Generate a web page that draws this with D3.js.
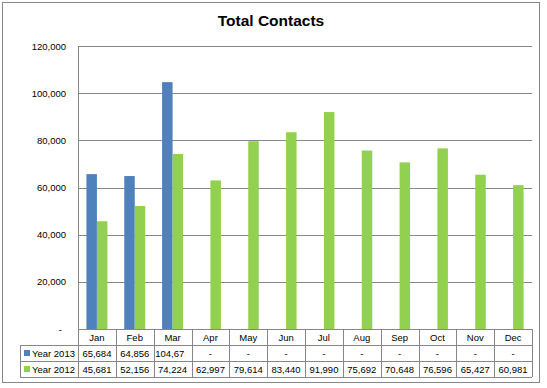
<!DOCTYPE html>
<html>
<head>
<meta charset="utf-8">
<script src="https://cdn.jsdelivr.net/npm/d3@7"></script>
<style>
  body { margin: 0; background: #fff; }
  text { font-family: "Liberation Sans", Arial, sans-serif; fill: #000; }
</style>
</head>
<body>
<div id="chart"></div>
<script>
const months = ["Jan", "Feb", "Mar", "Apr", "May", "Jun", "Jul", "Aug", "Sep", "Oct", "Nov", "Dec"];
const year2013 = [65684, 64856, 104670, null, null, null, null, null, null, null, null, null];
const year2012 = [45681, 52156, 74224, 62997, 79614, 83440, 91990, 75692, 70648, 76596, 65427, 60981];
const seriesNames = ["Year 2013", "Year 2012"];
const seriesColors = ["#4f81bd", "#92d050"];
const yTicks = [0, 20000, 40000, 60000, 80000, 100000, 120000];

const width = 547, height = 388;
const plotLeft = 78, plotRight = 532, plotTop = 46, zeroY = 329;
const rowH = 16, legendLeft = 20;
const grey = "#878787";

const svg = d3.select("#chart").append("svg")
  .attr("width", width)
  .attr("height", height);

// outer border
svg.append("rect")
  .attr("x", 2.5).attr("y", 2.5)
  .attr("width", 537).attr("height", 380)
  .attr("fill", "#fff")
  .attr("stroke", grey);

svg.append("text")
  .attr("x", 271).attr("y", 26)
  .attr("text-anchor", "middle")
  .style("font-size", "15.5px")
  .style("font-weight", "bold")
  .text("Total Contacts");

const x = d3.scaleBand().domain(months).range([plotLeft, plotRight]);
const y = d3.scaleLinear().domain([0, 120000]).range([zeroY, plotTop]);
const barW = 10.5;
const xs = d3.scaleBand().domain(seriesNames).range([0, barW * 2]);
const fmt = d3.format(",");

// gridlines
svg.append("g")
  .selectAll("line")
  .data(yTicks.filter(d => d > 0))
  .join("line")
  .attr("x1", plotLeft).attr("x2", plotRight)
  .attr("y1", d => Math.round(y(d)) + 0.5)
  .attr("y2", d => Math.round(y(d)) + 0.5)
  .attr("stroke", grey);

// y labels
svg.append("g")
  .selectAll("text")
  .data(yTicks)
  .join("text")
  .attr("x", d => d === 0 ? 62 : 66)
  .attr("y", d => y(d) + 3.5)
  .attr("text-anchor", "end")
  .style("font-size", "9.5px")
  .text(d => d === 0 ? "-" : fmt(d));

// bars
const series = [year2013, year2012];
series.forEach((vals, si) => {
  svg.append("g")
    .selectAll("rect")
    .data(months.map((m, i) => ({ m, v: vals[i] })).filter(d => d.v != null))
    .join("rect")
    .attr("x", d => x(d.m) + x.bandwidth() / 2 - barW + xs(seriesNames[si]))
    .attr("y", d => y(d.v))
    .attr("width", barW)
    .attr("height", d => zeroY - y(d.v))
    .attr("fill", seriesColors[si]);
});

// data table
const tableBottom = zeroY + rowH * 3;
const t = svg.append("g");

t.append("line")
  .attr("x1", plotLeft).attr("x2", plotRight)
  .attr("y1", zeroY + 0.5).attr("y2", zeroY + 0.5)
  .attr("stroke", grey);
[1, 2, 3].forEach(r => {
  t.append("line")
    .attr("x1", legendLeft).attr("x2", plotRight)
    .attr("y1", zeroY + rowH * r + 0.5).attr("y2", zeroY + rowH * r + 0.5)
    .attr("stroke", grey);
});

// y axis line
t.append("line")
  .attr("x1", plotLeft + 0.5).attr("x2", plotLeft + 0.5)
  .attr("y1", plotTop).attr("y2", tableBottom)
  .attr("stroke", grey);

// column lines
t.selectAll("line.col")
  .data(months)
  .join("line")
  .attr("class", "col")
  .attr("x1", d => Math.round(x(d) + x.bandwidth()) + 0.5)
  .attr("x2", d => Math.round(x(d) + x.bandwidth()) + 0.5)
  .attr("y1", zeroY).attr("y2", tableBottom)
  .attr("stroke", grey);

t.append("line")
  .attr("x1", legendLeft + 0.5).attr("x2", legendLeft + 0.5)
  .attr("y1", zeroY + rowH).attr("y2", tableBottom)
  .attr("stroke", grey);

// month row
t.selectAll("text.month")
  .data(months)
  .join("text")
  .attr("class", "month")
  .attr("x", d => x(d) + x.bandwidth() / 2)
  .attr("y", zeroY + 12)
  .attr("text-anchor", "middle")
  .style("font-size", "9.5px")
  .text(d => d);

// clip paths per cell so long numbers get cut like the original
const cellInner = x.bandwidth() - 8;
const defs = svg.append("defs");
months.forEach((m, i) => {
  defs.append("clipPath").attr("id", "cell" + i)
    .append("rect")
    .attr("x", x(m) + 1).attr("y", zeroY)
    .attr("width", cellInner - 0.3).attr("height", rowH * 3);
});

series.forEach((vals, si) => {
  const rowY = zeroY + rowH * (si + 1);
  t.append("rect")
    .attr("x", 24).attr("y", rowY + 5)
    .attr("width", 6).attr("height", 6)
    .attr("fill", seriesColors[si]);
  t.append("text")
    .attr("x", 32).attr("y", rowY + 11.5)
    .style("font-size", "9.5px")
    .text(seriesNames[si]);

  t.selectAll("text.v" + si)
    .data(months.map((m, i) => ({ m, i, v: vals[i] })))
    .join("text")
    .attr("class", "v" + si)
    .attr("y", rowY + 11.5)
    .style("font-size", "9.5px")
    .each(function (d) {
      const el = d3.select(this).text(d.v == null ? "-" : fmt(d.v));
      const w = this.getComputedTextLength();
      if (w > cellInner) {
        el.attr("x", x(d.m) + 1.5).attr("text-anchor", "start")
          .attr("clip-path", "url(#cell" + d.i + ")");
      } else {
        el.attr("x", x(d.m) + x.bandwidth() / 2).attr("text-anchor", "middle");
      }
    });
});
</script>
</body>
</html>
